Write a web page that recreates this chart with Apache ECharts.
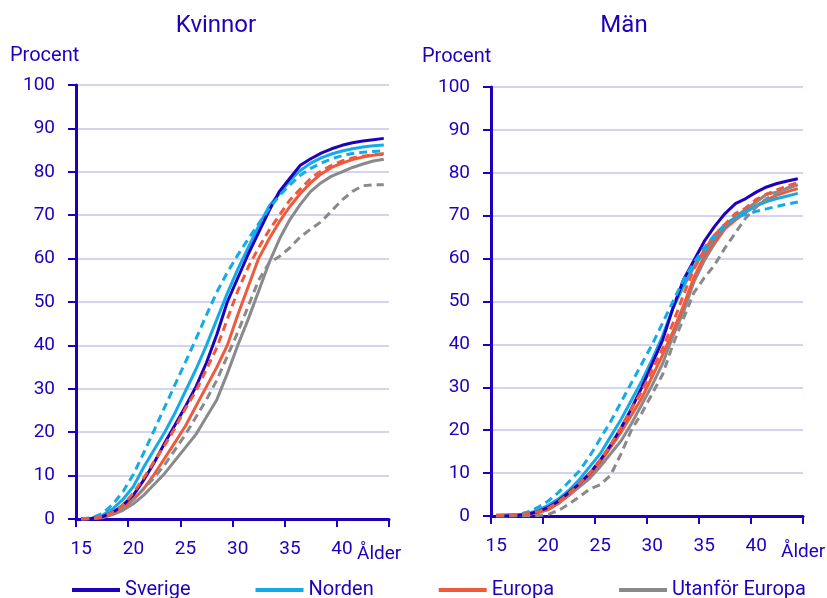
<!DOCTYPE html>
<html><head><meta charset="utf-8">
<script src="https://cdn.jsdelivr.net/npm/echarts@6/dist/echarts.min.js"></script>
<style>html,body{margin:0;padding:0;background:#fff}#c{width:827px;height:598px}</style>
</head><body><div id="c"></div>
<script>
const ages = ['15','16','17','18','19','20','21','22','23','24','25','26','27','28','29','30','31','32','33','34','35','36','37','38','39','40','41','42','43','44'];
const yTicks = [0,10,20,30,40,50,60,70,80,90,100];

// Kvinnor
const kvSverige  = [0,0.1,0.5,1.5,3.2,5.5,9,13,17.5,21.7,26,30.5,36,42.5,50,55.5,61,66,71,75.5,78.5,81.5,83,84.3,85.3,86.1,86.7,87.1,87.4,87.7];
const kvNorden   = [0,0.2,0.8,2.3,4.5,7.5,12,16,20,24.5,29.5,34.5,40,46,52,57.5,62.5,67.5,72,75,78,80.3,82,83.2,84.1,84.8,85.3,85.7,86,86.2];
const kvNordenD  = [0,0.3,1.2,3.3,6.3,10.3,15.3,20.5,25.8,31,36.2,41.5,47,52.3,56.8,60.8,64.5,68,71.5,74.5,77,79.2,80.8,82,83,83.7,84.2,84.5,84.7,84.8];
const kvEuropa   = [0,0.1,0.4,1.2,2.5,4.5,7,10.3,14,17.7,21.5,26,30.5,35,40,47,53.5,60,64.5,68.5,72,75,77.5,79.5,81,82,82.8,83.4,83.8,84.2];
const kvEuropaD  = [0,0.1,0.5,1.5,3.2,6,9.5,13.3,17,21,25.5,29.5,34.5,39.5,46,52.5,58,62.5,66.5,70,73.5,76,78.5,80.2,81.5,82.5,83.2,83.6,83.9,84.0];
const kvUtanfor  = [0,0.1,0.3,1,2,3.5,5.5,8,10.5,13.5,16.5,19.5,23.5,27.5,33.5,40,46,52.5,59,64.5,69,72.5,75.5,77.5,79,80,81,81.8,82.5,82.9];
const kvUtanforD = [0,0.1,0.5,1.3,2.5,4.5,7,9.5,12.5,16,19.5,23.5,27.5,32,37.5,43,49,55,59,60.5,62.5,65,66.8,68.5,71,73.5,75.5,76.8,77,77];

// Män
const mSverige  = [0,0,0.1,0.4,1,2,3.5,5.5,7.5,10,13,16.5,20.5,25,30,35.5,41,48.5,55,59.5,64,67.5,70.5,72.8,74,75.5,76.7,77.5,78.1,78.6];
const mNorden   = [0,0,0.1,0.5,1.3,2.5,4,6,8.5,11.5,14.5,18.5,22.5,27,31.5,36.5,42,48.5,53.5,58,61.5,65,67.5,69.5,71,72.3,73.3,74,74.6,75.2];
const mNordenD  = [0,0.1,0.3,0.9,2,3.5,5.5,8,10.5,14,18,22,26.5,31,35.5,40,45,50,55,59,62.5,65.5,68,69.6,70.3,71,71.6,72.2,72.7,73.2];
const mEuropa   = [0.2,0.3,0.3,0.4,0.8,1.5,3,5,7.5,9.5,12.5,16,19.5,23.5,27.5,32.5,37.5,43,49,55.5,60.5,64,67,69,70.8,72.3,73.7,74.8,75.6,76.3];
const mEuropaD  = [0.2,0.2,0.3,0.5,1,1.8,3.3,5.3,7.5,10,13,16.5,20.5,25,29,34,39,45,51.5,57.5,62,65.5,68,70.5,71.8,73.8,75,76,77,77.7];
const mUtanfor  = [0,0,0.1,0.3,0.8,1.5,3,4.8,6.8,8.8,11.5,14.5,17.5,21.5,26,30.5,35.5,42,47.5,54.5,59.5,63.5,67,69.7,71.5,73.2,75,75.5,76.3,77.2];
const mUtanforD = [0,0,0,0,0.1,0.4,1.3,2.8,4.5,6.3,7.3,9.5,14.5,20,24,28.5,33,40,46,52,55.5,58.5,62.5,66,69.5,72,74,75.3,76.5,77.3];

const legendNames = ['Sverige','Norden','Europa','Utanför Europa'];
const C_SV = '#1E00BE', C_NO = '#12ABE8', C_EU = '#F05A3C', C_UT = '#8A8A8A';
const TXT = '#1E00BE';
const FONT = 'Roboto';

function line(name, data, color, dashed, gi) {
  return {
    name: name, type: 'line', data: data,
    xAxisIndex: gi, yAxisIndex: gi,
    symbol: 'none', showSymbol: false, smooth: false,
    lineStyle: { color: color, width: 3, type: dashed ? [8, 5] : 'solid' },
    itemStyle: { color: color },
    emphasis: { disabled: true },
    z: dashed ? 3 : 2
  };
}

function xAx(gi) {
  return {
    type: 'category', gridIndex: gi, data: ages, boundaryGap: true,
    axisLine: { lineStyle: { color: TXT, width: 3 } },
    axisTick: { show: true, interval: 4, length: 8, lineStyle: { color: TXT, width: 2 } },
    axisLabel: { interval: 4, margin: 21, fontSize: 19, color: TXT, fontFamily: FONT },
    splitLine: { show: false }
  };
}
function yAx(gi) {
  return {
    type: 'value', gridIndex: gi, min: yTicks[0], max: yTicks[yTicks.length - 1], interval: 10,
    axisLine: { show: true, lineStyle: { color: TXT, width: 3 } },
    axisTick: { show: true, length: 8, lineStyle: { color: TXT, width: 2 } },
    axisLabel: { margin: 21, fontSize: 19, color: TXT, fontFamily: FONT },
    splitLine: { show: true, lineStyle: { color: '#D4D4F0', width: 2 } }
  };
}

const chart = echarts.init(document.getElementById('c'), null, { renderer: 'canvas' });
chart.setOption({
  animation: false,
  backgroundColor: '#fff',
  textStyle: { fontFamily: FONT },
  title: [
    { text: 'Kvinnor', left: 216, top: 14, padding: 0, textAlign: 'center', textStyle: { fontSize: 24, fontWeight: 'normal', color: TXT, fontFamily: FONT } },
    { text: 'Män', left: 624, top: 14, padding: 0, textAlign: 'center', textStyle: { fontSize: 24, fontWeight: 'normal', color: TXT, fontFamily: FONT } }
  ],
  graphic: [
    { type: 'text', left: 10, top: 46, style: { text: 'Procent', font: '20px Roboto', fill: TXT } },
    { type: 'text', left: 422, top: 47, style: { text: 'Procent', font: '20px Roboto', fill: TXT } },
    { type: 'text', left: 357, top: 545, style: { text: 'Ålder', font: '19px Roboto', fill: TXT } },
    { type: 'text', left: 781, top: 543, style: { text: 'Ålder', font: '19px Roboto', fill: TXT } }
  ],
  legend: {
    data: legendNames, left: 72, top: 580, itemWidth: 48, itemHeight: 4, itemGap: 65,
    icon: 'rect',
    padding: 0, selectedMode: false,
    textStyle: { fontSize: 20, color: TXT, fontFamily: FONT }
  },
  grid: [
    { left: 76, top: 85, width: 313, height: 434 },
    { left: 491, top: 87, width: 312, height: 429 }
  ],
  xAxis: [xAx(0), xAx(1)],
  yAxis: [yAx(0), yAx(1)],
  series: [
    line('Utanför Europa', kvUtanfor, C_UT, false, 0),
    line('Europa', kvEuropa, C_EU, false, 0),
    line('Norden', kvNorden, C_NO, false, 0),
    line('Sverige', kvSverige, C_SV, false, 0),
    line('Utanför Europa, streckad', kvUtanforD, C_UT, true, 0),
    line('Norden, streckad', kvNordenD, C_NO, true, 0),
    line('Europa, streckad', kvEuropaD, C_EU, true, 0),
    line('Utanför Europa', mUtanfor, C_UT, false, 1),
    line('Europa', mEuropa, C_EU, false, 1),
    line('Norden', mNorden, C_NO, false, 1),
    line('Sverige', mSverige, C_SV, false, 1),
    line('Utanför Europa, streckad', mUtanforD, C_UT, true, 1),
    line('Norden, streckad', mNordenD, C_NO, true, 1),
    line('Europa, streckad', mEuropaD, C_EU, true, 1)
  ]
});
</script></body></html>
